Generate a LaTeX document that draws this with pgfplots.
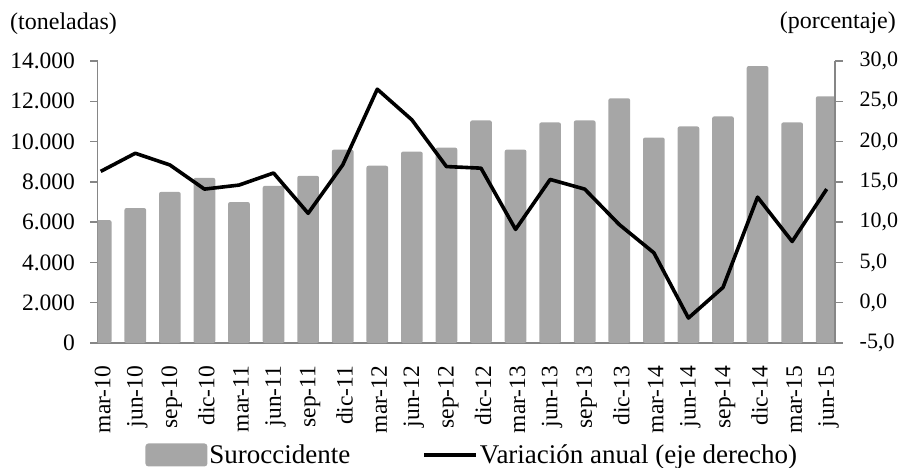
\documentclass[border=0pt]{standalone}
\usepackage{fontspec}
\setmainfont{Liberation Serif}
\usepackage{pgfplots}
\pgfplotsset{compat=1.18}
\definecolor{barfill}{HTML}{A6A6A6}
\definecolor{axgray}{HTML}{868686}
\pgfplotstableread{
x  ton    var
0  6100   16.3
1  6700   18.55
2  7500   17.1
3  8200   14.1
4  7000   14.6
5  7800   16.1
6  8300   11.1
7  9600   17.1
8  8800   26.5
9  9500   22.7
10 9700   16.9
11 11050  16.7
12 9600   9.1
13 10950  15.3
14 11050  14.1
15 12150  9.7
16 10200  6.2
17 10750  -1.9
18 11250  1.9
19 13750  13.1
20 10950  7.6
21 12250  14.1
}\datatable
\begin{document}
\begin{tikzpicture}[x=1pt,y=1pt]
\path[use as bounding box] (0,0) rectangle (899,-468);
\begin{axis}[
  at={(97.7pt,-343pt)}, anchor=south west,
  scale only axis, width=737.3pt, height=282pt,
  xmin=-0.087, xmax=21.24, ymin=0, ymax=14000,
  axis x line*=bottom, axis y line*=left,
  axis line style={axgray, line width=1.3pt},
  tick style={axgray, line width=1.3pt},
  tick align=outside, major tick length=7.5pt,
  scaled y ticks=false,
  ytick={0,2000,4000,6000,8000,10000,12000,14000},
  yticklabels={0,2.000,4.000,6.000,8.000,10.000,12.000,14.000},
  yticklabel style={font=\fontsize{23.5}{26}\selectfont, anchor=east, inner sep=0pt},
  yticklabel shift=15pt,
  xtick={0,...,21},
  xticklabels={mar-10,jun-10,sep-10,dic-10,mar-11,jun-11,sep-11,dic-11,mar-12,jun-12,sep-12,dic-12,mar-13,jun-13,sep-13,dic-13,mar-14,jun-14,sep-14,dic-14,mar-15,jun-15},
  x tick style={draw=none},
  xticklabel style={font=\fontsize{23.5}{26}\selectfont, rotate=90, anchor=east, inner sep=0pt, yshift=-2pt},
  xticklabel shift=15pt,
  extra x ticks={0.86,1.86,2.86,3.86,4.86,5.86,6.86,7.86,8.86,9.86,10.86,11.86,12.86,13.86,14.86,15.86,16.86,17.86,18.86,19.86,20.86},
  extra x tick labels={},
  extra x tick style={tick style={draw=axgray, line width=1.3pt}},
  legend style={at={(0.508,-0.397)}, anchor=center, draw=none, fill=none,
    legend columns=2, font=\fontsize{27}{30}\selectfont,
    /tikz/every even column/.append style={column sep=70pt},
    nodes={inner sep=2pt}},
  legend cell align=left,
]
\addplot[ybar, bar width=21.7pt, fill=barfill, draw=none, rounded corners=2pt,
  legend image code/.code={\fill[barfill, rounded corners=3pt] (0pt,-11.5pt) rectangle (62pt,11.5pt);}]
  table[x=x, y=ton] {\datatable};
\addlegendentry{Suroccidente}
\addlegendimage{legend image code/.code={\draw[black, line width=3.6pt] (0pt,0pt) -- (52pt,0pt);}}
\addlegendentry{Variación anual (eje derecho)}
\end{axis}
\begin{axis}[
  at={(97.7pt,-343pt)}, anchor=south west,
  scale only axis, width=737.3pt, height=282pt,
  xmin=-0.087, xmax=21.24, ymin=-5, ymax=30,
  axis x line=none, axis y line*=right,
  axis line style={axgray, line width=1.3pt},
  tick style={axgray, line width=1.3pt},
  tick align=outside, major tick length=7.5pt,
  ytick={-5,0,5,10,15,20,25,30},
  yticklabels={{-5,0},{0,0},{5,0},{10,0},{15,0},{20,0},{25,0},{30,0}},
  yticklabel style={font=\fontsize{22}{25}\selectfont, anchor=west, inner sep=0pt},
  yticklabel shift=17pt,
]
\addplot[black, line width=3.6pt, no markers, line join=round] table[x=x, y=var] {\datatable};
\end{axis}
\node[anchor=base west, inner sep=0pt, font=\fontsize{24}{28}\selectfont] at (10,-30) {(toneladas)};
\node[anchor=base east, inner sep=0pt, font=\fontsize{24}{28}\selectfont] at (896,-29) {(porcentaje)};
\end{tikzpicture}
\end{document}
